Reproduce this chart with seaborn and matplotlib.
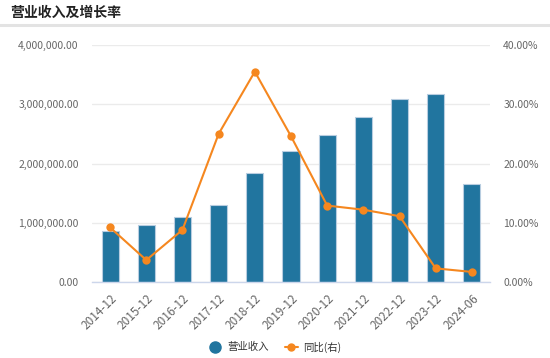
import numpy as np
import pandas as pd
import seaborn as sns
import matplotlib.pyplot as plt
from matplotlib.ticker import FuncFormatter, MultipleLocator
from matplotlib.lines import Line2D

# data
periods = ["2014-12", "2015-12", "2016-12", "2017-12", "2018-12", "2019-12",
           "2020-12", "2021-12", "2022-12", "2023-12", "2024-06"]
revenue = [860000, 962000, 1100000, 1300000, 1845000, 2210000,
           2476000, 2780000, 3094000, 3167000, 1660000]
yoy = [9.2, 3.7, 8.8, 25.0, 35.5, 24.6, 12.9, 12.2, 11.1, 2.3, 1.7]

df = pd.DataFrame({"period": periods, "revenue": revenue, "yoy": yoy})

sns.set_style("white")
plt.rcParams['font.family'] = ['Noto Sans CJK SC', 'DejaVu Sans']

bar_color = "#21759f"
line_color = "#f5871f"
text_color = "#666666"
grid_color = "#ebebeb"
axis_color = "#ccd6eb"

fig = plt.figure(figsize=(5.5, 3.58), dpi=100)
ax = fig.add_axes([92 / 550, 1 - 282 / 358, (490 - 92) / 550, (282 - 45) / 358])

sns.barplot(data=df, x="period", y="revenue", color=bar_color, width=0.47,
            edgecolor="#b8cde0", linewidth=0.8, saturation=1, ax=ax, zorder=2)
ax.set_xlim(-0.5, len(periods) - 0.5)
ax.set_ylim(0, 4000000)
ax.yaxis.set_major_locator(MultipleLocator(1000000))
ax.yaxis.set_major_formatter(FuncFormatter(lambda v, p: f"{v:,.2f}"))
ax.grid(axis="y", color=grid_color, linewidth=1, zorder=0)
ax.set_xlabel("")
ax.set_ylabel("")

ax2 = ax.twinx()
sns.lineplot(x=np.arange(len(periods)), y=df["yoy"], color=line_color,
             marker="o", markersize=6, markeredgewidth=0, linewidth=1.5, ax=ax2, zorder=3)
ax2.set_ylim(0, 40)
ax2.yaxis.set_major_locator(MultipleLocator(10))
ax2.yaxis.set_major_formatter(FuncFormatter(lambda v, p: f"{v:.2f}%"))
ax2.set_ylabel("")
ax2.set_xlim(-0.5, len(periods) - 0.5)

for a in (ax, ax2):
    for s in a.spines.values():
        s.set_visible(False)
    a.tick_params(axis="y", length=0, labelsize=7.5, labelcolor=text_color, pad=9.5)

ax.spines["bottom"].set_visible(True)
ax.spines["bottom"].set_color(axis_color)
ax.spines["bottom"].set_linewidth(1)
ax.set_xticks(np.arange(len(periods)))
ax.set_xticklabels(periods, rotation=45, ha="right", rotation_mode="anchor")
ax.tick_params(axis="x", which="major", length=0, labelsize=8.5, labelcolor=text_color, pad=7)
ax.set_xticks(np.arange(len(periods) + 1) - 0.5, minor=True)
ax.tick_params(axis="x", which="minor", length=5, color=axis_color, width=1)

# title and divider
fig.text(10 / 550, 1 - 13 / 358, "营业收入及增长率", fontsize=10, fontweight="bold",
         color="#222222", va="center", ha="left")
fig.add_artist(Line2D([0, 1], [1 - 25 / 358] * 2, color="#e3e3e3", linewidth=2.2))

handles = [
    Line2D([], [], color=bar_color, marker="o", linestyle="none", markersize=8),
    Line2D([], [], color=line_color, marker="o", markersize=5, linewidth=1.5),
]
fig.legend(handles, ["营业收入", "同比(右)"], loc="center", bbox_to_anchor=(0.5, 1 - 347 / 358),
           ncol=2, frameon=False, fontsize=7.5, handlelength=1.3, handletextpad=0.5,
           columnspacing=1.5, labelcolor="#333333")

fig.savefig("out.png", dpi=100)
